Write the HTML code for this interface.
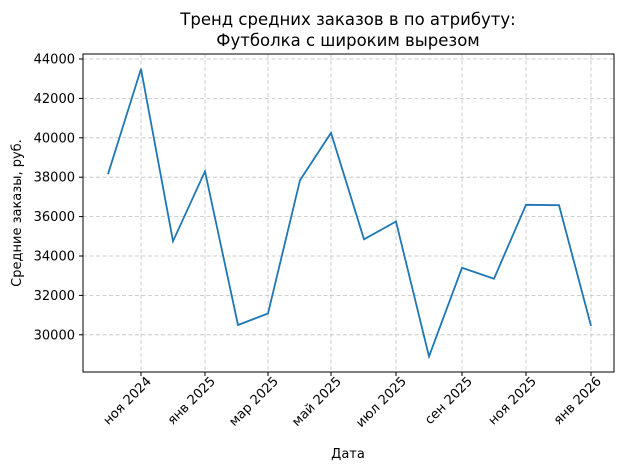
<!DOCTYPE html>
<html><head><meta charset="utf-8"><style>body{margin:0;background:#fff}svg{display:block}text{font-family:"DejaVu Sans","Liberation Sans",sans-serif;fill:#000}</style></head>
<body>
<svg width="628" height="470" viewBox="0 0 628 470" xmlns="http://www.w3.org/2000/svg">
<rect width="628" height="470" fill="#fff"/>
<text x="348" y="25" font-size="16.5" text-anchor="middle">Тренд средних заказов в  по атрибуту:</text>
<text x="348" y="46" font-size="16.5" text-anchor="middle">Футболка с широким вырезом</text>
<g stroke="#c0c0c0" stroke-width="0.8" stroke-dasharray="4,2.5">
<line x1="83" x2="614" y1="59" y2="59"/><line x1="83" x2="614" y1="98.4" y2="98.4"/><line x1="83" x2="614" y1="137.8" y2="137.8"/><line x1="83" x2="614" y1="177.2" y2="177.2"/><line x1="83" x2="614" y1="216.6" y2="216.6"/><line x1="83" x2="614" y1="256" y2="256"/><line x1="83" x2="614" y1="295.4" y2="295.4"/><line x1="83" x2="614" y1="334.8" y2="334.8"/>
<line x1="141" x2="141" y1="54" y2="372"/><line x1="205" x2="205" y1="54" y2="372"/><line x1="268" x2="268" y1="54" y2="372"/><line x1="331" x2="331" y1="54" y2="372"/><line x1="396" x2="396" y1="54" y2="372"/><line x1="462" x2="462" y1="54" y2="372"/><line x1="526" x2="526" y1="54" y2="372"/><line x1="591" x2="591" y1="54" y2="372"/>
</g>
<polyline fill="none" stroke="#1f77b4" stroke-width="1.8" points="108,174.2 141,68.9 173,241.2 205,171.3 238,325 268,313.5 300,180.2 331,132.9 364,239.3 396,221.5 429,356.5 462,267.8 494,278.7 526,204.8 559,205.2 591,325.9"/>
<rect x="83" y="54" width="531" height="318" fill="none" stroke="#000" stroke-width="1"/>
<g stroke="#000" stroke-width="1">
<line x1="79" x2="83" y1="59" y2="59"/><line x1="79" x2="83" y1="98.4" y2="98.4"/><line x1="79" x2="83" y1="137.8" y2="137.8"/><line x1="79" x2="83" y1="177.2" y2="177.2"/><line x1="79" x2="83" y1="216.6" y2="216.6"/><line x1="79" x2="83" y1="256" y2="256"/><line x1="79" x2="83" y1="295.4" y2="295.4"/><line x1="79" x2="83" y1="334.8" y2="334.8"/>
<line x1="141" x2="141" y1="372" y2="376"/><line x1="205" x2="205" y1="372" y2="376"/><line x1="268" x2="268" y1="372" y2="376"/><line x1="331" x2="331" y1="372" y2="376"/><line x1="396" x2="396" y1="372" y2="376"/><line x1="462" x2="462" y1="372" y2="376"/><line x1="526" x2="526" y1="372" y2="376"/><line x1="591" x2="591" y1="372" y2="376"/>
</g>
<g font-size="13" text-anchor="end">
<text x="75" y="63.5">44000</text><text x="75" y="102.9">42000</text><text x="75" y="142.3">40000</text><text x="75" y="181.7">38000</text><text x="75" y="221.1">36000</text><text x="75" y="260.5">34000</text><text x="75" y="299.9">32000</text><text x="75" y="339.3">30000</text>
</g>
<g font-size="13" text-anchor="end">
<text transform="translate(152,382) rotate(-45)">ноя 2024</text>
<text transform="translate(216,382) rotate(-45)">янв 2025</text>
<text transform="translate(279,382) rotate(-45)">мар 2025</text>
<text transform="translate(342,382) rotate(-45)">май 2025</text>
<text transform="translate(407,382) rotate(-45)">июл 2025</text>
<text transform="translate(473,382) rotate(-45)">сен 2025</text>
<text transform="translate(537,382) rotate(-45)">ноя 2025</text>
<text transform="translate(602,382) rotate(-45)">янв 2026</text>
</g>
<text x="348" y="458" font-size="13" text-anchor="middle">Дата</text>
<text transform="translate(21,213) rotate(-90)" font-size="13" text-anchor="middle">Средние заказы, руб.</text>
</svg>
</body></html>
